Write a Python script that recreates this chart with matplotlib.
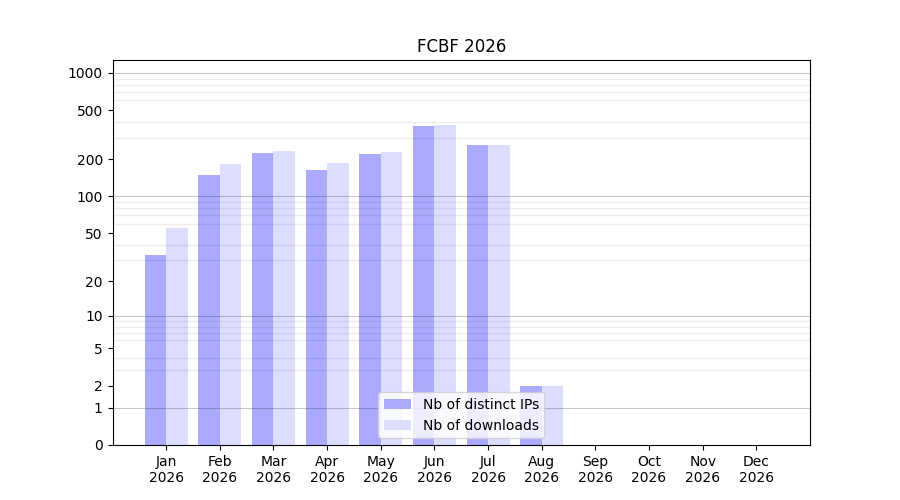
import matplotlib.pyplot as plt
import numpy as np

months = ["Jan", "Feb", "Mar", "Apr", "May", "Jun", "Jul", "Aug", "Sep", "Oct", "Nov", "Dec"]
year = "2026"
distinct_ips = [33, 150, 225, 165, 220, 375, 260, 2, 0, 0, 0, 0]
downloads = [55, 183, 235, 187, 230, 380, 262, 2, 0, 0, 0, 0]

y_ticks = [0, 1, 2, 5, 10, 20, 50, 100, 200, 500, 1000]


def forward(v):
    return np.log10(1 + np.clip(v, 0, None))


def inverse(v):
    return 10 ** v - 1


fig, ax = plt.subplots(figsize=(9, 5), dpi=100)
x = np.arange(len(months))
w = 0.4
ax.bar(x - w / 2, distinct_ips, w, color="#aaaaff", label="Nb of distinct IPs", zorder=1)
ax.bar(x + w / 2, downloads, w, color="#ddddff", label="Nb of downloads", zorder=1)

ax.set_yscale("function", functions=(forward, inverse))
ax.set_ylim(0, 1270)
ax.set_yticks(y_ticks)
ax.set_yticklabels([str(t) for t in y_ticks])

# faint grid at every 1..9 multiple, darker at decades (drawn over the bars)
minor = [m * 10 ** e for e in range(0, 4) for m in range(1, 10) if m * 10 ** e <= 1270]
ax.set_yticks(minor, minor=True)
ax.tick_params(axis="y", which="minor", length=0)
ax.grid(axis="y", which="minor", color="black", alpha=0.07, linewidth=1, zorder=2)
for d in [1, 10, 100, 1000]:
    ax.axhline(d, color="black", alpha=0.22, linewidth=0.8, zorder=2)
ax.set_axisbelow(False)

ax.set_xticks(x)
ax.set_xticklabels([m + "\n" + year for m in months])
ax.set_xlim(-1, 12)
ax.set_title("FCBF 2026")
ax.legend(loc="lower center")

fig.savefig("out.png")
